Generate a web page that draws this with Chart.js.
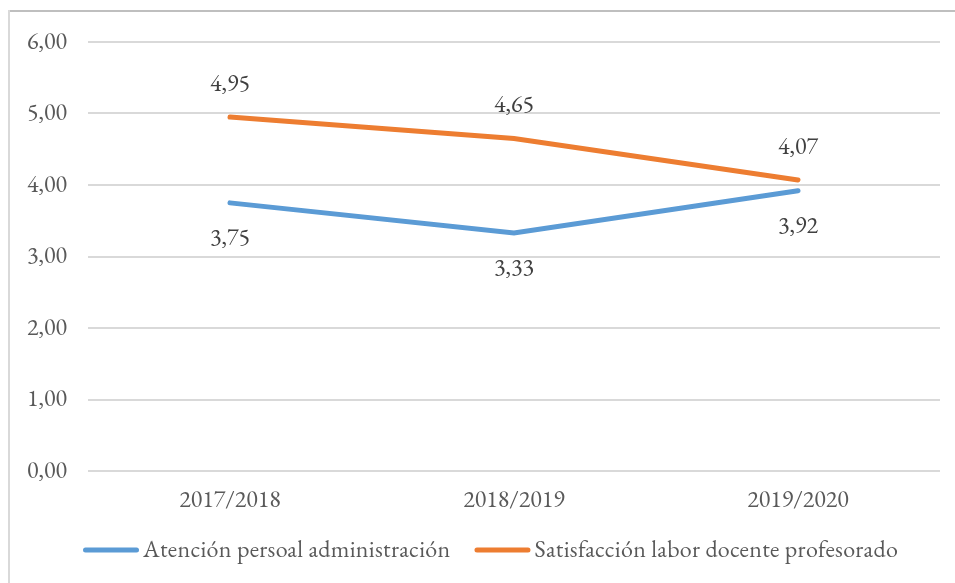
<!DOCTYPE html>
<html lang="es">
<head>
<meta charset="utf-8">
<title>Evolución de la satisfacción</title>
<script src="https://cdn.jsdelivr.net/npm/chart.js@4/dist/chart.umd.min.js"></script>
<style>
  html, body { margin: 0; padding: 0; background: #fff; }
  #wrap { position: relative; width: 955px; height: 583px; }
  #frameTop { position: absolute; left: 8px; top: 10px; width: 947px; height: 2px; background: #bfbfbf; }
  #frameLeft { position: absolute; left: 8px; top: 10px; width: 2px; height: 573px; background: #d9d9d9; }
  canvas { position: absolute; left: 0; top: 0; }
</style>
</head>
<body>
<div id="wrap">
  <canvas id="chart" width="955" height="583"></canvas>
  <div id="frameTop"></div>
  <div id="frameLeft"></div>
</div>
<script>
// Cursos académicos
const cursos = ['2017/2018', '2018/2019', '2019/2020'];
// Valoraciones medias por curso
const atencionPersonal = [3.75, 3.33, 3.92];
const satisfaccionDocente = [4.95, 4.65, 4.07];
// Marcas del eje vertical
const yMin = 0;
const yMax = 6;
const yStep = 1;

const FONT = "'EB Garamond', 'Liberation Serif', serif";
const FONT_SIZE = 24;
const fmt = v => Number(v).toFixed(2).replace('.', ',');

Chart.defaults.font.family = FONT;
Chart.defaults.font.size = FONT_SIZE;
Chart.defaults.color = '#595959';

// Etiquetas de valor: naranja por encima de la línea, azul por debajo
const valueLabels = {
  id: 'valueLabels',
  afterDatasetsDraw(chart) {
    const ctx = chart.ctx;
    ctx.save();
    ctx.font = FONT_SIZE + 'px ' + FONT;
    ctx.fillStyle = '#404040';
    ctx.textAlign = 'center';
    ctx.textBaseline = 'middle';
    chart.data.datasets.forEach((ds, i) => {
      const meta = chart.getDatasetMeta(i);
      const dy = ds.labelAbove ? -33 : 36;
      meta.data.forEach((pt, j) => {
        ctx.fillText(fmt(ds.data[j]), pt.x, pt.y + dy);
      });
    });
    ctx.restore();
  }
};

// Leyenda inferior: trazo de la serie seguido de su nombre
const lineLegend = {
  id: 'lineLegend',
  afterDraw(chart) {
    const ctx = chart.ctx;
    const lineLen = 56, textGap = 4, itemGap = 24;
    const y = 550;
    ctx.save();
    ctx.font = FONT_SIZE + 'px ' + FONT;
    if ('letterSpacing' in ctx) ctx.letterSpacing = '0.3px';
    ctx.textBaseline = 'middle';
    let x = chart.chartArea.left - 5;
    chart.data.datasets.forEach(ds => {
      ctx.strokeStyle = ds.borderColor;
      ctx.lineWidth = 5;
      ctx.lineCap = 'round';
      ctx.beginPath();
      ctx.moveTo(x + 2.5, y);
      ctx.lineTo(x + lineLen - 2.5, y);
      ctx.stroke();
      ctx.fillStyle = '#595959';
      ctx.textAlign = 'left';
      ctx.fillText(ds.label, x + lineLen + textGap, y);
      x += lineLen + textGap + ctx.measureText(ds.label).width + itemGap;
    });
    ctx.restore();
  }
};

const chart = new Chart(document.getElementById('chart'), {
  type: 'line',
  data: {
    labels: cursos,
    datasets: [
      {
        label: 'Atención persoal administración',
        data: atencionPersonal,
        borderColor: '#5B9BD5',
        backgroundColor: '#5B9BD5',
        borderWidth: 5,
        borderCapStyle: 'round',
        pointRadius: 0,
        tension: 0,
        labelAbove: false
      },
      {
        label: 'Satisfacción labor docente profesorado',
        data: satisfaccionDocente,
        borderColor: '#ED7D31',
        backgroundColor: '#ED7D31',
        borderWidth: 5,
        borderCapStyle: 'round',
        pointRadius: 0,
        tension: 0,
        labelAbove: true
      }
    ]
  },
  options: {
    responsive: false,
    animation: false,
    layout: { padding: { top: 42, right: 15, bottom: 66, left: 0 } },
    plugins: {
      tooltip: { enabled: false },
      legend: { display: false }
    },
    scales: {
      x: {
        offset: true,
        grid: { display: false },
        border: { display: false },
        ticks: {
          color: '#595959',
          padding: 7,
          maxRotation: 0
        },
        afterFit(scale) { scale.height = 46; }
      },
      y: {
        min: yMin,
        max: yMax,
        grid: { color: '#d9d9d9', lineWidth: 2, drawTicks: false },
        border: { display: false },
        ticks: {
          stepSize: yStep,
          color: '#595959',
          padding: 21,
          callback: v => fmt(v)
        },
        afterFit(scale) { scale.width = 88; }
      }
    }
  },
  plugins: [valueLabels, lineLegend]
});

// Redibujar cuando las fuentes del sistema estén listas
if (document.fonts && document.fonts.ready) {
  document.fonts.ready.then(() => chart.update('none'));
}
</script>
</body>
</html>
